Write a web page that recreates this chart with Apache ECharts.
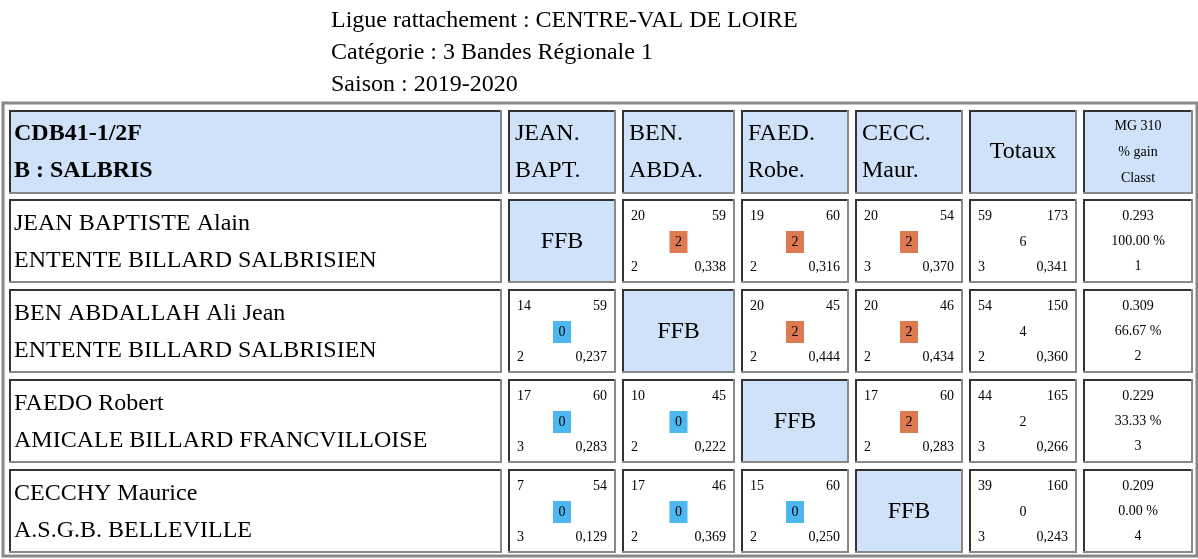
<!DOCTYPE html>
<html><head><meta charset="utf-8">
<script src="https://cdn.jsdelivr.net/npm/echarts@6/dist/echarts.min.js"></script>
<style>html,body{margin:0;padding:0;background:#fff}#c{width:1198px;height:559px}</style>
</head><body><div id="c"></div>
<script>
const titleLines = ["Ligue rattachement : CENTRE-VAL DE LOIRE", "Catégorie : 3 Bandes Régionale 1", "Saison : 2019-2020"];
const headerTeam = ["CDB41-1/2F", "B : SALBRIS"];
const headerCols = [["JEAN.", "BAPT."], ["BEN.", "ABDA."], ["FAED.", "Robe."], ["CECC.", "Maur."]];
const headerMG = ["MG 310", "% gain", "Classt"];
const players = ["JEAN BAPTISTE Alain", "BEN ABDALLAH Ali Jean", "FAEDO Robert", "CECCHY Maurice"];
const clubs = ["ENTENTE BILLARD SALBRISIEN", "ENTENTE BILLARD SALBRISIEN", "AMICALE BILLARD FRANCVILLOISE", "A.S.G.B. BELLEVILLE"];
// [points, reprises, match points, sets, moyenne]; null = FFB
const scores = [
  [null, [20,59,2,2,"0,338"], [19,60,2,2,"0,316"], [20,54,2,3,"0,370"]],
  [[14,59,0,2,"0,237"], null, [20,45,2,2,"0,444"], [20,46,2,2,"0,434"]],
  [[17,60,0,3,"0,283"], [10,45,0,2,"0,222"], null, [17,60,2,2,"0,283"]],
  [[7,54,0,3,"0,129"], [17,46,0,2,"0,369"], [15,60,0,2,"0,250"], null]
];
const totals = [[59,173,6,3,"0,341"], [54,150,4,2,"0,360"], [44,165,2,3,"0,266"], [39,160,0,3,"0,243"]];
const mg = [["0.293","100.00 %","1"], ["0.309","66.67 %","2"], ["0.229","33.33 %","3"], ["0.209","0.00 %","4"]];

// layout constants
const colX = [[9,502],[508,616],[622,735],[741,849],[855,963],[969,1077],[1083,1193]];
const rowY = [[110,194],[199,283],[289,373],[379,463],[469,553]];
const FAM = 'Liberation Serif';
const BLUE = '#cfe2f9';

const cells = [];
for (let r = 0; r < 5; r++) for (let c = 0; c < 7; c++) cells.push([c, r]);

function txt(x, y, s, size, align, weight) {
  return {type:'text', style:{x, y, text:String(s), fontFamily:FAM, fontSize:size, fontWeight:weight||'normal', fill:'#000', align:align||'left', verticalAlign:'middle'}};
}

function renderItem(params, api) {
  const c = api.value(0), r = api.value(1);
  const p0 = api.coord([colX[c][0], rowY[r][0]]);
  const p1 = api.coord([colX[c][1], rowY[r][1]]);
  const x0 = p0[0], y0 = p0[1], x1 = p1[0], y1 = p1[1];
  const w = x1 - x0, cx = (x0 + x1) / 2;
  const ch = [];
  let fill = '#fff';
  if (r === 0) fill = BLUE;
  else if (c >= 1 && c <= 4 && c - 1 === r - 1) fill = BLUE;
  ch.push({type:'rect', shape:{x:x0, y:y0, width:w, height:y1-y0}, style:{fill}});
  ch.push({type:'polyline', shape:{points:[[x0+1,y1],[x0+1,y0+1],[x1,y0+1]]}, style:{stroke:'#333', lineWidth:2, fill:null}});
  ch.push({type:'polyline', shape:{points:[[x0,y1-1],[x1-1,y1-1],[x1-1,y0]]}, style:{stroke:'#888', lineWidth:2, fill:null}});
  if (r === 0) {
    if (c === 0) { ch.push(txt(x0+5, y0+24, headerTeam[0], 24, 'left', 'bold')); ch.push(txt(x0+5, y0+61, headerTeam[1], 24, 'left', 'bold')); }
    else if (c <= 4) { ch.push(txt(x0+7, y0+24, headerCols[c-1][0], 24)); ch.push(txt(x0+7, y0+61, headerCols[c-1][1], 24)); }
    else if (c === 5) ch.push(txt(cx, y0+42, 'Totaux', 24, 'center'));
    else headerMG.forEach((s, i) => ch.push(txt(cx, y0+16+i*26, s, 14, 'center')));
  } else {
    const pr = r - 1;
    if (c === 0) { ch.push(txt(x0+5, y0+25, players[pr], 24)); ch.push(txt(x0+5, y0+62, clubs[pr], 24)); }
    else if (c <= 4) {
      const s = scores[pr][c-1];
      if (!s) ch.push(txt(cx, y0+43, 'FFB', 24, 'center'));
      else {
        ch.push(txt(x0+9, y0+17, s[0], 14)); ch.push(txt(x1-9, y0+17, s[1], 14, 'right'));
        ch.push({type:'rect', shape:{x:cx-9, y:y0+32, width:18, height:22}, style:{fill: s[2] > 0 ? '#de7a52' : '#4db8f0'}});
        ch.push(txt(cx, y0+43, s[2], 14, 'center'));
        ch.push(txt(x0+9, y0+68, s[3], 14)); ch.push(txt(x1-9, y0+68, s[4], 14, 'right'));
      }
    } else if (c === 5) {
      const t = totals[pr];
      ch.push(txt(x0+9, y0+17, t[0], 14)); ch.push(txt(x1-9, y0+17, t[1], 14, 'right'));
      ch.push(txt(cx, y0+43, t[2], 14, 'center'));
      ch.push(txt(x0+9, y0+68, t[3], 14)); ch.push(txt(x1-9, y0+68, t[4], 14, 'right'));
    } else mg[pr].forEach((s, i) => ch.push(txt(cx, y0+17+i*25, s, 14, 'center')));
  }
  return {type:'group', children:ch};
}

const chart = echarts.init(document.getElementById('c'));
chart.setOption({
  animation:false,
  grid:{left:0, right:0, top:0, bottom:0},
  xAxis:{type:'value', min:0, max:1198, show:false},
  yAxis:{type:'value', min:0, max:559, inverse:true, show:false},
  graphic: titleLines.map((s, i) => ({type:'text', left:331, top:9+i*32, style:{text:s, fontFamily:FAM, fontSize:24, fill:'#000'}})).concat([
    {type:'rect', shape:{x:3, y:103, width:1194, height:453}, style:{fill:null, stroke:'#888', lineWidth:3}}
  ]),
  series:[{type:'custom', renderItem, data:cells, coordinateSystem:'cartesian2d'}]
});
</script></body></html>
